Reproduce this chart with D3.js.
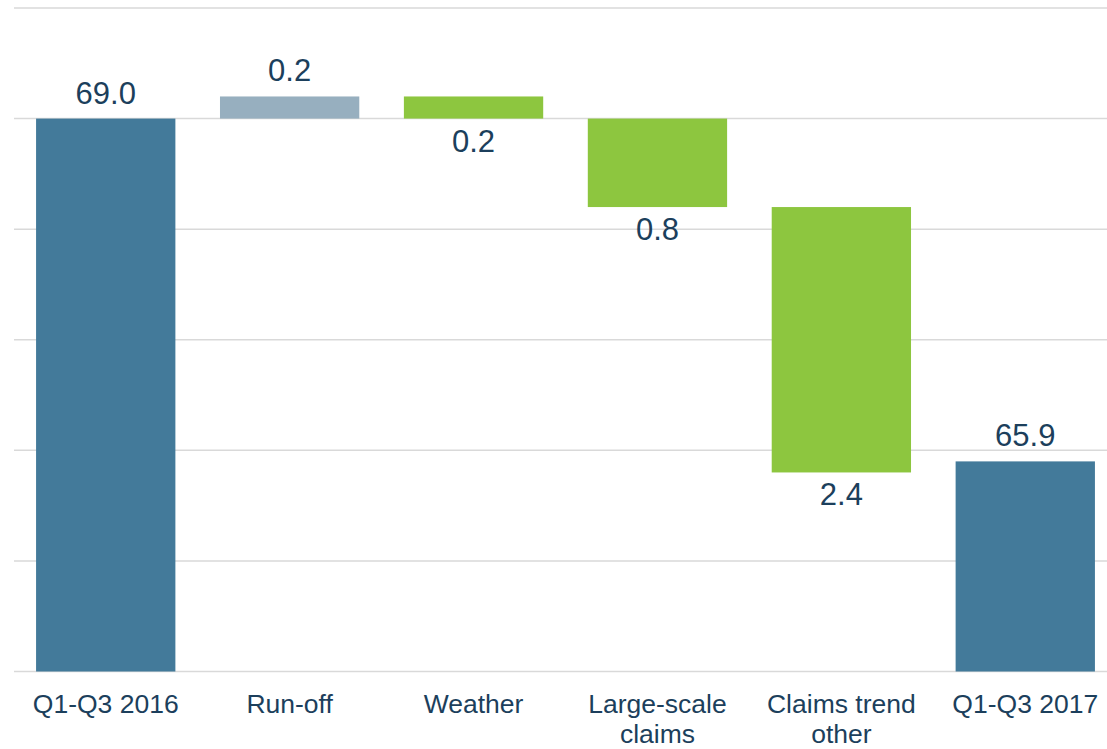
<!DOCTYPE html>
<html>
<head>
<meta charset="utf-8">
<script src="https://cdn.jsdelivr.net/npm/d3@7/dist/d3.min.js"></script>
<style>
  html, body { margin: 0; padding: 0; background: #ffffff; }
  svg { display: block; font-family: "Liberation Sans", Arial, sans-serif; }
</style>
</head>
<body>
<svg id="chart" width="1107" height="749"></svg>
<script>
// ---- data ----
const categories = ["Q1-Q3 2016", "Run-off", "Weather", "Large-scale\nclaims", "Claims trend\nother", "Q1-Q3 2017"];
const values = [69.0, 0.2, -0.2, -0.8, -2.4, 65.9];
const kinds = ["total", "up", "down", "down", "down", "total"];
const yTicks = [64, 65, 66, 67, 68, 69, 70];

// ---- build waterfall segments ----
let running = 0;
const bars = categories.map((c, i) => {
  let lo, hi;
  if (kinds[i] === "total") {
    lo = yTicks[0]; hi = values[i]; running = values[i];
  } else {
    const start = running, end = running + values[i];
    lo = Math.min(start, end); hi = Math.max(start, end); running = end;
  }
  return { cat: c, v: values[i], kind: kinds[i], lo, hi };
});

const colors = { total: "#437a9a", up: "#97afbf", down: "#8dc63f" };
const textColor = "#1c3f5c";

const svg = d3.select("#chart");
const x = d3.scaleBand().domain(categories).range([14, 1117]).paddingInner(0.2425).paddingOuter(0.12);
const y = d3.scaleLinear().domain([64, 70]).range([671.5, 8]);

// gridlines
svg.append("g").selectAll("line").data(yTicks).join("line")
  .attr("x1", 14).attr("x2", 1117)
  .attr("y1", d => y(d)).attr("y2", d => y(d))
  .attr("stroke", "#d9d9d9").attr("stroke-width", 1.5);

// bars
svg.append("g").selectAll("rect").data(bars).join("rect")
  .attr("x", d => x(d.cat))
  .attr("width", x.bandwidth())
  .attr("y", d => y(d.hi))
  .attr("height", d => y(d.lo) - y(d.hi))
  .attr("fill", d => colors[d.kind]);

// value labels
svg.append("g").selectAll("text").data(bars).join("text")
  .attr("x", d => x(d.cat) + x.bandwidth() / 2)
  .attr("y", d => d.kind === "down" ? y(d.lo) + 33 : y(d.hi) - 15)
  .attr("text-anchor", "middle")
  .attr("font-size", 31)
  .attr("fill", textColor)
  .text(d => d3.format(".1f")(Math.abs(d.v)));

// category labels
const cat = svg.append("g").selectAll("text").data(categories).join("text")
  .attr("x", d => x(d) + x.bandwidth() / 2)
  .attr("y", 713)
  .attr("text-anchor", "middle")
  .attr("font-size", 26.5)
  .attr("fill", textColor);
cat.selectAll("tspan").data(d => d.split("\n").map((t, j) => ({ t, j, c: d }))).join("tspan")
  .attr("x", d => x(d.c) + x.bandwidth() / 2)
  .attr("dy", d => d.j === 0 ? 0 : 30)
  .text(d => d.t);
</script>
</body>
</html>
